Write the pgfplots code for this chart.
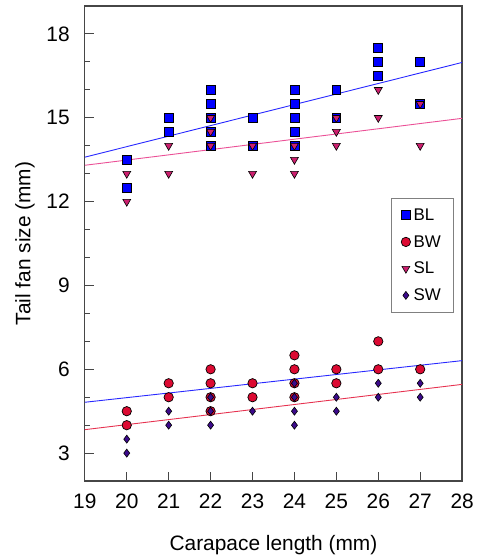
\documentclass[border=0pt]{standalone}
\usepackage{pgfplots}
\pgfplotsset{compat=1.18}
\usepackage{fontspec}
\setmainfont{Liberation Sans}
\definecolor{cBL}{RGB}{0,0,255}
\definecolor{cBW}{RGB}{220,10,50}
\definecolor{cSL}{RGB}{204,31,110}
\definecolor{cSW}{RGB}{60,10,140}
\definecolor{lBL}{RGB}{40,40,255}
\definecolor{lSL}{RGB}{235,80,150}
\definecolor{lSW}{RGB}{230,50,80}
\definecolor{axc}{RGB}{70,70,70}
\begin{document}
\begin{tikzpicture}
\path (-85bp,-76bp) rectangle (399bp,482bp);
\begin{axis}[
  at={(0,0)}, anchor=south west,
  scale only axis, width=378bp, height=476bp,
  xmin=19, xmax=28, ymin=2, ymax=19,
  xtick={19,...,28}, ytick={3,6,...,18},
  minor y tick num=2,
  tick pos=left, tick align=inside,
  major tick length=9bp, minor tick length=5bp,
  every tick/.style={axc, line width=1bp},
  axis line style={axc, line width=1.3bp},
  /pgf/number format/assume math mode=true,
  tick label style={font=\fontsize{21}{24}\selectfont},
  xticklabel style={anchor=north, inner sep=0pt, yshift=-13bp},
  yticklabel style={anchor=east, inner sep=0pt, xshift=-15bp},
  label style={font=\fontsize{21}{24}\selectfont},
  xlabel={Carapace length (mm)},
  ylabel={Tail fan size (mm)},
  xlabel style={at={(axis description cs:0.5,0)}, anchor=center, yshift=-64bp},
  ylabel style={at={(axis description cs:0,0.5)}, anchor=center, rotate=0, yshift=60bp},
  legend style={at={(0.979,0.595)}, anchor=north east, draw=gray, line width=0.8bp,
    font=\fontsize{17}{20}\selectfont, row sep=13.5bp, inner xsep=10bp, inner ysep=10bp,
    nodes={inner xsep=3bp, inner ysep=0pt}},
  legend image code/.code={\draw[mark repeat=2,mark phase=2] plot coordinates {(0bp,0bp) (7bp,0bp) (20bp,0bp)};},
  legend cell align=left,
]
\addplot[only marks, mark=square*, mark size=4.5bp, mark options={fill=cBL, draw=black, line width=0.7bp}] coordinates {
(20,13.5) (20,12.5) (21,15) (21,14.5) (22,16) (22,15.5) (22,15) (22,14.5) (22,14)
(23,15) (23,14) (24,16) (24,15.5) (24,15) (24,14.5) (24,14) (25,16) (25,15)
(26,17.5) (26,17) (26,16.5) (27,17) (27,15.5)};
\addlegendentry{BL}
\addplot[only marks, mark=*, mark size=4.7bp, mark options={fill=cBW, draw=black, line width=0.7bp}] coordinates {
(20,4.5) (20,4) (21,5.5) (21,5) (22,6) (22,5.5) (22,5) (22,4.5) (23,5.5) (23,5)
(24,6.5) (24,6) (24,5.5) (24,5) (25,6) (25,5.5) (26,7) (26,6) (27,6)};
\addlegendentry{BW}
\addplot[only marks, mark=triangle*, mark size=4.6bp, mark options={rotate=180, fill=cSL, draw=black, line width=0.6bp}] coordinates {
(20,13) (20,12) (21,14) (21,13) (22,15) (22,14.5) (22,14) (23,14) (23,13)
(24,14) (24,13.5) (24,13) (25,15) (25,14.5) (25,14) (26,16) (26,15) (27,15.5) (27,14)};
\addlegendentry{SL}
\addplot[only marks, mark=diamond*, mark size=4bp, mark options={fill=cSW, draw=black, line width=0.6bp}] coordinates {
(20,3.5) (20,3) (21,4.5) (21,4) (22,5) (22,4.5) (22,4) (23,4.5) (24,5.5) (24,5)
(24,4.5) (24,4) (25,5) (25,4.5) (26,5.5) (26,5) (27,5.5) (27,5)};
\addlegendentry{SW}
\addplot[lBL, line width=0.9bp, forget plot] coordinates {(19,13.59) (28,16.98)};
\addplot[lSL, line width=0.9bp, forget plot] coordinates {(19,13.30) (28,14.98)};
\addplot[lBL, line width=0.9bp, forget plot] coordinates {(19,4.82) (28,6.31)};
\addplot[lSW, line width=0.9bp, forget plot] coordinates {(19,3.84) (28,5.46)};
\end{axis}
\end{tikzpicture}
\end{document}
